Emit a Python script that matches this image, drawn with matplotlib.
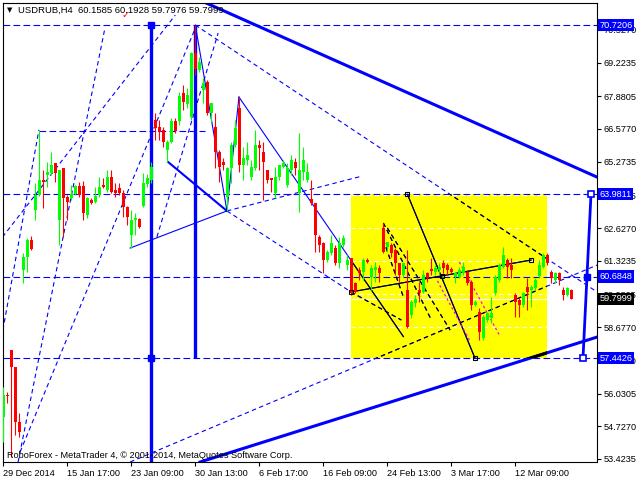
import numpy as np
import matplotlib.pyplot as plt
from matplotlib.patches import Rectangle

plt.rcParams['font.family'] = ['Liberation Sans', 'DejaVu Sans']

# USDRUB H4 candles, bar 0 = 29 Dec 2014
opens = [55.09, 55.97, 57.77, 57.09, 54.89, 60.95, 61.47, 62.15, 63.35, 63.95,
         64.54, 64.74, 64.82, 65.22, 62.95, 65.02, 63.87, 63.83, 63.99, 64.30,
         64.30, 63.15, 63.75, 63.67, 63.95, 64.34, 64.14, 64.66, 64.14, 64.22,
         64.03, 63.47, 62.35, 62.95, 62.99, 63.51, 64.38, 64.54, 66.94, 66.66,
         66.54, 65.74, 66.06, 66.90, 66.90, 68.01, 67.57, 67.06, 69.61, 68.93,
         68.13, 68.45, 67.21, 66.66, 65.66, 65.26, 63.87, 65.02, 65.94, 67.41,
         65.14, 65.34, 64.66, 65.02, 65.94, 65.66, 64.94, 64.62, 64.03, 64.66,
         65.06, 64.34, 64.94, 65.26, 64.03, 64.86, 64.54, 63.79, 63.63, 62.27,
         62.03, 61.35, 61.63, 61.83, 61.23, 61.95, 61.15, 61.43, 60.44, 60.95,
         60.88, 61.35, 60.68, 60.95, 61.03, 62.63, 61.87, 61.95, 61.75, 61.23,
         60.76, 60.16, 59.16, 59.64, 60.16, 60.08, 60.84, 60.99, 60.88, 60.95,
         61.23, 61.15, 60.99, 60.68, 60.68, 60.84, 60.88, 60.48, 59.56, 59.28,
         58.24, 58.96, 59.04, 60.04, 60.56, 61.07, 61.35, 61.15, 59.96, 59.76,
         59.56, 60.28, 60.16, 60.24, 60.72, 61.07, 61.55, 60.88, 60.56, 60.84,
         60.16, 59.96, 60.1585]
highs = [56.29, 56.09, 57.77, 57.09, 55.25, 61.63, 62.23, 62.31, 64.42, 66.54,
         64.94, 65.26, 65.66, 65.22, 64.94, 65.02, 63.95, 64.34, 64.34, 64.46,
         64.50, 63.87, 63.83, 64.26, 64.66, 64.62, 64.94, 64.94, 64.42, 64.42,
         64.14, 63.50, 63.35, 63.23, 63.03, 64.82, 64.78, 65.26, 67.21, 66.94,
         66.66, 66.14, 67.02, 67.02, 68.05, 68.33, 68.21, 69.65, 70.7206, 69.45,
         68.61, 68.53, 67.61, 67.21, 65.74, 65.42, 65.06, 66.06, 66.94, 67.85,
         65.86, 66.06, 65.34, 66.54, 66.14, 66.06, 64.94, 64.62, 65.06, 65.14,
         65.34, 65.22, 65.54, 65.42, 66.42, 65.86, 65.22, 64.54, 63.63, 62.35,
         62.07, 61.75, 62.35, 61.95, 62.27, 62.35, 61.55, 61.43, 60.48, 61.07,
         61.43, 61.43, 61.15, 61.27, 61.15, 62.83, 62.07, 62.03, 61.83, 61.23,
         61.27, 61.75, 59.76, 59.96, 60.48, 60.95, 60.88, 61.43, 61.15, 61.23,
         61.35, 61.23, 61.07, 60.88, 61.07, 61.27, 60.95, 60.56, 59.76, 59.44,
         59.16, 59.28, 59.88, 60.76, 61.23, 61.87, 61.43, 61.43, 60.04, 59.84,
         60.08, 60.64, 60.36, 60.64, 61.35, 61.63, 61.63, 60.95, 60.88, 60.88,
         60.28, 60.28, 60.1928]
lows = [54.10, 55.65, 53.50, 54.38, 54.30, 60.44, 60.88, 61.75, 62.95, 63.90,
        63.43, 64.26, 64.74, 64.46, 61.95, 62.27, 62.95, 63.75, 63.95, 63.87,
        62.95, 63.03, 63.60, 63.63, 63.87, 64.22, 64.07, 64.03, 63.87, 63.95,
        63.07, 62.75, 61.83, 62.35, 62.63, 63.47, 64.26, 64.42, 66.14, 66.14,
        65.86, 65.26, 66.02, 66.42, 66.74, 67.33, 67.41, 66.94, 68.73, 68.85,
        67.61, 67.14, 66.86, 65.02, 64.46, 64.94, 63.31, 64.42, 65.86, 64.86,
        64.54, 65.14, 64.54, 64.94, 64.94, 63.75, 64.42, 64.07, 63.83, 64.54,
        65.02, 64.26, 64.74, 64.74, 63.27, 64.54, 64.46, 63.55, 61.67, 61.67,
        60.84, 61.27, 61.55, 61.15, 61.03, 61.87, 60.95, 59.96, 60.04, 60.56,
        60.56, 61.23, 60.16, 60.48, 60.48, 61.63, 61.67, 61.47, 60.76, 60.48,
        60.68, 58.64, 59.04, 59.48, 59.68, 60.04, 60.48, 60.76, 60.76, 60.84,
        60.84, 60.76, 60.84, 60.44, 60.64, 60.76, 60.36, 59.36, 59.52, 58.16,
        58.16, 58.88, 58.84, 59.96, 60.48, 61.03, 60.64, 60.64, 59.08, 59.08,
        59.48, 59.36, 59.48, 60.16, 60.64, 61.03, 61.15, 60.44, 60.44, 60.36,
        59.76, 59.92, 59.7976]
closes = [55.97, 55.93, 57.09, 54.89, 54.50, 61.47, 62.15, 61.79, 63.95, 64.54,
          64.46, 64.86, 65.14, 64.82, 64.94, 63.83, 63.67, 63.99, 64.30, 63.95,
          63.23, 63.83, 63.63, 63.91, 64.26, 64.26, 64.66, 64.07, 64.03, 64.03,
          63.47, 63.07, 62.95, 63.03, 62.67, 64.42, 64.62, 65.06, 66.62, 66.46,
          66.06, 66.06, 66.90, 66.50, 67.89, 67.65, 67.93, 69.61, 68.97, 69.25,
          68.41, 67.21, 67.61, 65.66, 65.06, 65.14, 65.02, 65.94, 66.62, 65.14,
          65.42, 65.54, 65.06, 65.94, 65.82, 65.26, 64.54, 64.54, 64.66, 65.14,
          65.22, 65.02, 65.34, 65.02, 64.94, 65.34, 64.86, 63.63, 62.35, 61.95,
          61.35, 61.67, 62.03, 61.23, 62.03, 62.23, 61.35, 60.04, 60.08, 60.84,
          61.35, 61.27, 61.03, 61.07, 60.84, 61.67, 62.07, 61.63, 61.23, 60.76,
          61.23, 58.68, 59.68, 59.80, 60.04, 60.76, 60.64, 60.91, 61.03, 61.07,
          61.03, 60.95, 60.88, 60.84, 60.95, 61.07, 60.44, 59.56, 59.68, 58.48,
          59.08, 59.24, 59.24, 60.68, 61.15, 61.55, 61.07, 60.95, 59.68, 59.56,
          60.04, 60.08, 60.28, 60.56, 61.15, 61.55, 61.23, 60.64, 60.84, 60.56,
          59.96, 60.24, 59.7999]

y_ticks = [53.4235, 54.7270, 56.0305, 57.3340, 58.6770, 59.9805, 61.3235,
           62.6270, 63.9305, 65.2735, 66.5770, 67.8805, 69.2235, 70.5270]
x_ticks = [0, 16, 32, 48, 64, 80, 96, 112, 128]
x_labels = ['29 Dec 2014', '15 Jan 17:00', '23 Jan 09:00', '30 Jan 13:00',
            '6 Feb 17:00', '16 Feb 09:00', '24 Feb 13:00', '3 Mar 17:00',
            '12 Mar 09:00']

# price levels marked on the right scale
levels = [70.7206, 63.9811, 60.6848, 57.4426]
bid = 59.7999

# analysis objects as (bar, price) endpoints
thick_lines = [((50.7, 71.60), (148.4, 64.66)),
               ((49.2, 53.30), (148.4, 58.28))]
solid_lines = [((48.0, 70.72), (55.9, 63.31)),
               ((55.9, 63.31), (58.9, 67.85)),
               ((58.9, 67.85), (100.0, 58.30)),
               ((31.7, 61.83), (55.9, 63.31)),
               ((101.0, 63.98), (117.9, 57.44)),
               ((86.9, 60.08), (131.9, 61.35))]
dotted_lines = [((55.9, 63.31), (89.7, 64.70)),
                ((55.9, 63.31), (86.9, 60.08)),
                ((48.0, 70.72), (148.4, 60.08)),
                ((31.7, 53.30), (148.4, 61.15)),
                ((-0.2, 62.27), (43.0, 71.12)),
                ((-0.1, 58.56), (8.9, 66.54)),
                ((3.7, 53.30), (25.4, 70.60)),
                ((4.2, 53.70), (48.0, 70.60)),
                ((38.4, 62.27), (53.7, 70.40)),
                ((95.0, 62.83), (107.0, 58.96)),
                ((96.0, 62.63), (111.7, 58.56)),
                ((95.0, 62.15), (100.0, 59.88)),
                ((86.9, 60.08), (99.5, 58.96))]
magenta_lines = [((108.5, 60.52), (116.5, 58.16)),
                 ((114.0, 61.27), (124.0, 58.36))]
box = (86.9, 135.9, 57.4426, 63.9811)

BLUE = '#0000ff'
FS = 6.6

fig = plt.figure(figsize=(6.4, 4.8), dpi=100)
ax = fig.add_axes([2.7 / 640, 18 / 480, 594.3 / 640, 459 / 480])
ax.set_xlim(-0.15, 148.4)
ax.set_ylim(53.30, 71.60)

rect = Rectangle((box[0], box[2]), box[1] - box[0], box[3] - box[2],
                 facecolor='#ffff00', edgecolor='none', zorder=1)
ax.add_patch(rect)
inside = [t for t in y_ticks if box[2] < t < box[3]]
ax.hlines(inside, box[0], box[1], colors='white', linestyles=(0, (4, 3)),
          linewidth=0.8, zorder=1.5)
ax.hlines(bid, box[0], box[1], colors='white', linewidth=0.8, zorder=1.5)

# horizontal dashed levels
ax.hlines(levels, -0.15, 148.4, colors=BLUE, linestyles=(0, (6, 3)),
          linewidth=0.8, zorder=2)
ax.hlines(66.50, 8.8, 50.4, colors=BLUE, linestyles=(0, (6, 3)),
          linewidth=0.8, zorder=2)


def draw(seg, lw, ls):
    # blue line, shown black where it crosses the yellow box
    (x0, y0), (x1, y1) = seg
    ax.plot([x0, x1], [y0, y1], color=BLUE, lw=lw, ls=ls, zorder=2)
    k, = ax.plot([x0, x1], [y0, y1], color='black', lw=lw, ls=ls, zorder=2.1)
    k.set_clip_path(rect)


for s in thick_lines:
    draw(s, 2.2, '-')
for s in solid_lines:
    draw(s, 0.8, '-')
draw(((41.2, 65.26), (55.9, 63.31)), 1.5, '-')
for s in dotted_lines:
    draw(s, 0.8, (0, (4, 3)))
for (x0, y0), (x1, y1) in magenta_lines:
    ax.plot([x0, x1], [y0, y1], color='#ff00ff', lw=0.9, ls=(0, (2, 2)),
            zorder=2.2)

# thick vertical lines
ax.vlines(37, 53.30, 70.7206, colors=BLUE, linewidth=2.4, zorder=2)
ax.vlines(48, 57.4426, 70.7206, colors=BLUE, linewidth=2.4, zorder=2)
ax.plot([144.9, 146.9], [57.4426, 63.9811], color=BLUE, lw=2.0, zorder=2)
ax.plot([37, 37], [70.7206, 57.4426], 's', color=BLUE, ms=5, zorder=4)
ax.plot([144.9, 146.9], [57.4426, 63.9811], 's', mfc='white', mec=BLUE,
        ms=4.5, mew=1.2, zorder=4)
ax.plot([145.9], [60.6848], 's', color=BLUE, ms=4.5, zorder=4)
ax.plot([86.9, 101.0, 117.9, 109.6, 131.9], [60.08, 63.98, 57.44, 60.72, 61.35],
        's', mfc='none', mec='black', ms=3.5, mew=0.8, zorder=4)

# candles
x = np.arange(len(opens))
o = np.array(opens)
c = np.array(closes)
col = np.where(c >= o, '#00ff00', '#ff0000')
ax.vlines(x, lows, highs, colors=col, linewidth=0.8, zorder=3)
body = np.maximum(np.abs(c - o), 0.04)
ax.bar(x, body, bottom=np.minimum(o, c), width=0.72, color=col,
       linewidth=0, zorder=3)

# axes styling
for sp in ax.spines.values():
    sp.set_color('black')
    sp.set_linewidth(0.8)
ax.yaxis.tick_right()
ax.set_yticks(y_ticks)
ax.set_yticklabels([f'{t:.4f}' for t in y_ticks])
ax.set_xticks(x_ticks)
ax.set_xticklabels(x_labels)
for lab in ax.get_xticklabels():
    lab.set_ha('left')
ax.tick_params(axis='both', direction='out', length=3, width=0.8,
               labelsize=FS, pad=2, colors='black')

tr = ax.get_yaxis_transform()
for lv in levels:
    ax.text(1.004, lv, f'{lv:.4f}', transform=tr, va='center', ha='left',
            fontsize=FS, color='white', clip_on=False, zorder=6,
            bbox=dict(facecolor=BLUE, edgecolor='none', pad=1.3))
ax.text(1.004, bid, f'{bid:.4f}', transform=tr, va='center', ha='left',
        fontsize=FS, color='white', clip_on=False, zorder=6,
        bbox=dict(facecolor='black', edgecolor='none', pad=1.3))

fig.text(7 / 640, 1 - 10 / 480, '\u25bc', fontsize=5, va='center',
         family='DejaVu Sans')
fig.text(18 / 640, 1 - 10 / 480,
         'USDRUB,H4  60.1585 60.1928 59.7976 59.7999',
         fontsize=6.8, va='center')
fig.text(122 / 640, 1 - 15 / 480, '\u2713', fontsize=7, color='red',
         va='center', family='DejaVu Sans')
fig.text(7 / 640, 1 - 455 / 480,
         'RoboForex - MetaTrader 4, \u00a9 2001-2014, MetaQuotes Software Corp.',
         fontsize=6.6, va='center')

fig.savefig('out.png', dpi=100)
